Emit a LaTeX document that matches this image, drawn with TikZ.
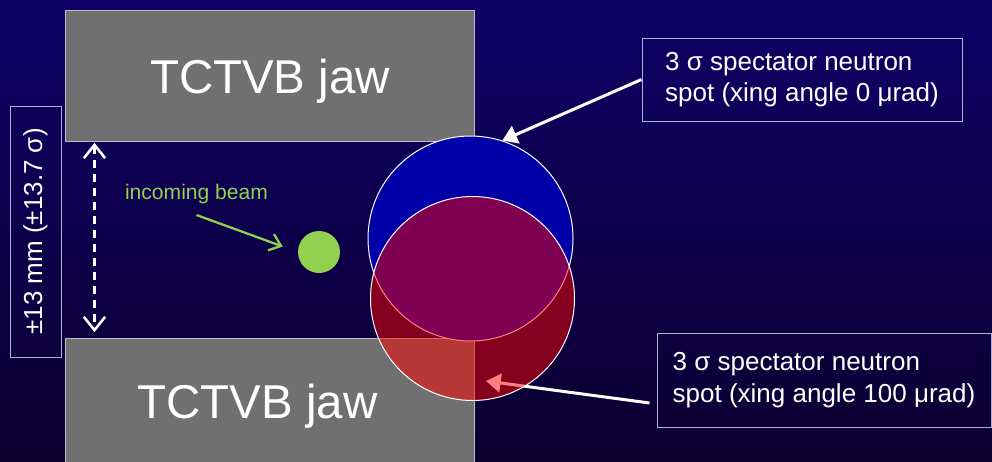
\documentclass[tikz,border=0pt]{standalone}
\usepackage{fontspec}
\setmainfont{Liberation Sans}
\usetikzlibrary{arrows.meta}
\definecolor{bgtop}{RGB}{14,0,102}
\definecolor{bgbot}{RGB}{12,0,48}
\definecolor{jawgray}{RGB}{112,112,112}
\definecolor{jawline}{RGB}{190,190,200}
\definecolor{spotblue}{RGB}{0,0,168}
\definecolor{beamgreen}{RGB}{146,208,80}
\definecolor{boxline}{RGB}{176,176,208}
\tikzset{
jaw/.style={draw=jawline,fill=jawgray,line width=.75pt,minimum width=306.75pt,inner sep=0pt},
jawtxt/.style={text=white,font=\fontsize{35.6}{40}\selectfont,anchor=base},
spot/.style={circle,draw=white,line width=.75pt,inner sep=0pt,minimum size=153.75pt},
note/.style={draw=boxline,line width=.75pt,text=white,align=left,font=\fontsize{19.5}{23.5}\selectfont},
bigarrow/.style={white,line width=2.25pt,-{Triangle[length=11pt,width=14pt]}}
}
\begin{document}
\begin{tikzpicture}[x=.75pt,y=-.75pt]
\shade[top color=bgtop,bottom color=bgbot](0,0)rectangle(992,461);
\useasboundingbox(0,0)rectangle(992,461);
\node[jaw,minimum height=98.25pt](topjaw)at(269.5,75.5){};
\node[jaw,minimum height=99pt](botjaw)at(269.5,404){};
\node[jawtxt](topjawtxt)at(270,93){TCTVB jaw};
\node[jawtxt](botjawtxt)at(257.5,418){TCTVB jaw};
\node[draw=boxline,line width=.75pt,text=white,rotate=90,minimum width=188.25pt,minimum height=38.25pt,inner sep=0pt,font=\fontsize{19.5}{23.5}\selectfont](gap)at(35.5,231.5){±13 mm (±13.7 σ)};
\draw[white,line width=1.9pt,dash pattern=on 6pt off 4.5pt,{Straight Barb[length=10pt,width=16pt]}-{Straight Barb[length=10pt,width=16pt]},shorten <=1pt,shorten >=4pt]([xshift=22.5pt]topjaw.south west)--([xshift=22.5pt]botjaw.north west);
\node[circle,fill=beamgreen,inner sep=0pt,minimum size=31.5pt](beam)at(319,252){};
\node[text=beamgreen,font=\fontsize{15.8}{19}\selectfont,anchor=base](beamtxt)at(196.5,199){incoming beam};
\draw[beamgreen,line width=1.7pt,-{Straight Barb[length=8pt,width=13pt]},shorten >=12pt]([yshift=-12pt]beamtxt.base)--(beam.west);
\node[spot,fill=spotblue](blue)at(470.5,238.5){};
\node[note,minimum width=240pt,minimum height=62.25pt](topnote)at(802,79.5){3 σ spectator neutron\\spot (xing angle 0 μrad)};
\node[note,minimum width=250.5pt,minimum height=70.5pt](lownote)at(824,380){3 σ spectator neutron\\spot (xing angle 100 μrad)};
\coordinate(redspot)at(486,381);
\draw[bigarrow]([shift={(-5.25pt,-17.25pt)}]lownote.west)--(redspot);
\node[spot,fill=red,fill opacity=.5,minimum size=153pt](red)at(472.5,298.5){};
\draw[bigarrow](topnote.west)--(blue.72);
\end{tikzpicture}
\end{document}
